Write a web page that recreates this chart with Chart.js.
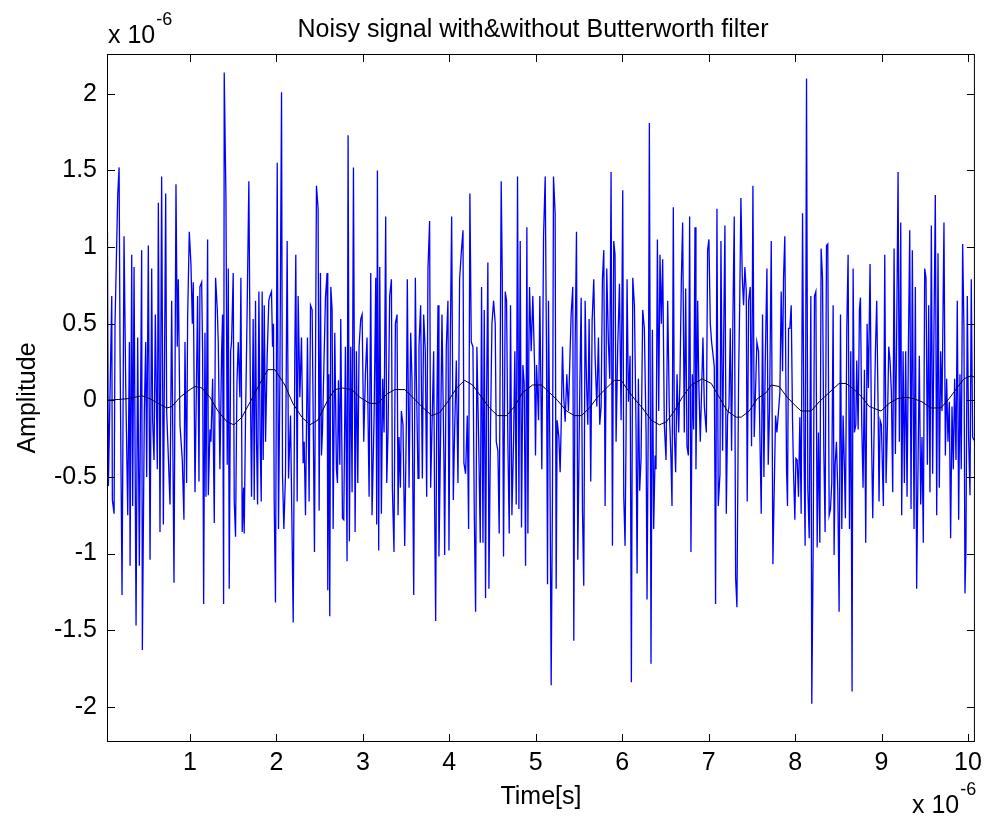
<!DOCTYPE html>
<html>
<head>
<meta charset="utf-8">
<title>Noisy signal with&amp;without Butterworth filter</title>
<script src="https://cdn.jsdelivr.net/npm/chart.js@4/dist/chart.umd.min.js"></script>
<style>
  html, body { margin: 0; padding: 0; background: #fff; }
  canvas { display: block; }
</style>
</head>
<body>
<canvas id="grafico" width="988" height="821"></canvas>
<script>
// Time in microseconds, amplitude in units of 1e-6 (axes show "x 10^-6")
const noisyTime = [
  0.045,0.056,0.095,0.102,0.122,0.133,0.164,0.180,0.191,0.214,0.237,0.257,0.280,0.299,0.307,0.326,0.337,0.353,0.376,0.395,0.414,0.441,0.449,0.472,0.488,0.499,0.518,0.538,0.557,0.568,0.584,0.599,0.622,0.634,0.653,0.672,0.692,0.719,0.730,0.749,0.769,0.788,0.815,0.838,0.853,0.865,0.884,0.911,0.930,0.942,0.961,0.973,0.992,
  1.011,1.027,1.038,1.058,1.088,1.104,1.115,1.135,1.146,1.158,1.173,1.185,1.204,1.212,1.231,1.242,1.262,1.281,1.296,1.316,1.327,1.346,1.366,1.377,1.389,1.396,1.416,1.431,1.443,1.454,1.470,1.481,1.500,1.512,1.527,1.543,1.558,1.577,1.589,1.604,1.620,1.627,1.643,1.662,1.681,1.697,1.712,1.731,1.743,1.758,1.770,1.782,1.797,1.812,1.824,1.835,1.847,1.859,1.874,1.893,1.912,1.924,1.943,1.955,1.966,1.974,
  1.989,2.009,2.024,2.040,2.059,2.070,2.086,2.105,2.124,2.140,2.163,2.178,2.194,2.213,2.224,2.240,2.251,2.271,2.290,2.309,2.321,2.336,2.348,2.359,2.378,2.394,2.413,2.425,2.440,2.463,2.482,2.494,2.509,2.521,2.532,2.548,2.567,2.586,2.594,2.606,2.617,2.629,2.644,2.656,2.675,2.694,2.706,2.717,2.733,2.744,2.764,2.779,2.798,2.817,2.829,2.844,2.860,2.875,2.891,2.910,2.925,2.941,2.956,
  2.975,2.991,3.010,3.029,3.048,3.072,3.091,3.106,3.129,3.149,3.160,3.168,3.183,3.195,3.214,3.229,3.245,3.264,3.276,3.291,3.310,3.330,3.341,3.360,3.376,3.395,3.407,3.418,3.434,3.445,3.464,3.484,3.503,3.514,3.534,3.553,3.568,3.588,3.607,3.618,3.638,3.649,3.668,3.688,3.703,3.722,3.738,3.753,3.772,3.784,3.799,3.819,3.830,3.842,3.853,3.869,3.880,3.900,3.915,3.938,
  3.946,3.965,3.984,3.996,4.011,4.027,4.046,4.061,4.081,4.100,4.119,4.138,4.158,4.169,4.188,4.208,4.223,4.238,4.254,4.273,4.289,4.304,4.319,4.342,4.358,4.373,4.389,4.404,4.419,4.431,4.446,4.458,4.477,4.493,4.512,4.531,4.543,4.562,4.577,4.600,4.612,4.627,4.647,4.662,4.677,4.693,4.708,4.724,4.743,4.758,4.774,4.789,4.805,4.820,4.835,4.851,4.866,4.882,4.897,4.909,4.920,
  4.928,4.947,4.966,4.986,4.997,5.009,5.032,5.047,5.070,5.090,5.109,5.124,5.136,5.147,5.163,5.178,5.193,5.205,5.224,5.236,5.247,5.267,5.282,5.294,5.309,5.324,5.340,5.359,5.378,5.409,5.428,5.440,5.455,5.471,5.486,5.505,5.525,5.540,5.555,5.571,5.586,5.602,5.617,5.636,5.652,5.671,5.686,5.706,5.725,5.740,5.756,5.771,5.787,5.802,5.821,5.840,5.856,5.871,5.887,5.902,
  5.917,5.929,5.948,5.968,5.987,6.006,6.018,6.033,6.045,6.056,6.072,6.091,6.106,6.122,6.141,6.160,6.172,6.187,6.202,6.218,6.237,6.256,6.276,6.287,6.303,6.314,6.326,6.333,6.349,6.364,6.380,6.391,6.407,6.422,6.437,6.453,6.468,6.487,6.507,6.526,6.545,6.564,6.576,6.591,6.603,6.618,6.634,6.653,6.668,6.684,6.699,6.718,6.734,6.749,6.765,6.780,6.795,6.811,6.826,6.842,6.853,6.873,6.884,
  6.903,6.919,6.934,6.950,6.973,6.988,7.003,7.019,7.034,7.046,7.065,7.080,7.096,7.111,7.131,7.142,7.161,7.177,7.188,7.204,7.219,7.235,7.250,7.265,7.281,7.296,7.312,7.327,7.346,7.358,7.373,7.389,7.404,7.419,7.435,7.446,7.462,7.481,7.496,7.512,7.527,7.543,7.558,7.577,7.593,7.608,7.623,7.639,7.654,7.674,7.689,7.704,7.724,7.743,7.758,7.774,7.789,7.804,7.824,7.839,7.855,7.866,
  7.881,7.901,7.912,7.924,7.939,7.955,7.970,7.982,7.997,8.009,8.024,8.039,8.055,8.070,8.086,8.105,8.116,8.132,8.147,8.163,8.182,8.193,8.209,8.224,8.240,8.255,8.270,8.286,8.301,8.317,8.332,8.347,8.363,8.378,8.394,8.409,8.424,8.440,8.451,8.463,8.478,8.494,8.509,8.525,8.540,8.555,8.571,8.582,8.598,8.613,8.629,8.644,8.659,8.671,8.686,8.702,8.713,8.729,8.744,8.756,8.771,8.786,8.802,8.817,8.833,8.848,
  8.867,8.883,8.898,8.914,8.929,8.944,8.960,8.971,8.983,8.998,9.021,9.037,9.052,9.068,9.083,9.098,9.114,9.129,9.145,9.160,9.175,9.191,9.206,9.222,9.233,9.249,9.264,9.279,9.295,9.310,9.326,9.341,9.356,9.376,9.391,9.406,9.422,9.437,9.453,9.468,9.483,9.499,9.514,9.530,9.545,9.560,9.576,9.591,9.607,9.622,9.638,9.653,9.668,9.684,9.699,9.722,9.738,9.753,9.768,9.784,9.799,9.815,9.830,9.845,9.861,9.876,9.892,9.907,9.922,9.938,9.953,9.965,9.976,9.992,10.007,10.023,10.038,10.053,10.069
];
const noisyAmp = [
  1.10,-0.56,0.68,-0.65,-0.74,0.50,1.34,1.52,0.32,-1.27,1.07,0.08,-0.75,0.38,-1.08,0.95,-0.69,0.87,-1.47,0.41,-1.08,0.98,-1.63,-0.07,0.38,-0.50,1.01,-1.04,0.86,-0.13,-0.39,0.56,-0.45,1.29,-0.86,1.46,-0.81,1.35,-0.07,-0.36,-0.68,0.65,-1.19,1.41,0.35,0.79,-0.16,-0.39,-0.78,0.38,-0.54,0.55,1.10,
  0.89,0.50,0.77,-0.60,0.68,-0.53,0.74,0.77,0.32,-1.33,0.44,-0.63,1.05,-0.62,-0.19,-0.27,0.14,-0.80,0.80,0.59,0.38,-0.45,0.32,0.56,-1.33,2.14,1.32,-0.42,0.86,-1.23,0.32,0.38,0.83,-0.66,-0.89,0.11,0.38,0.02,0.80,-0.86,-0.57,-0.87,-0.10,0.62,1.43,0.17,-0.63,0.53,-0.65,0.65,-0.27,-0.68,0.71,-0.27,-0.66,0.71,-0.39,0.62,-0.27,0.29,0.65,0.68,0.71,0.35,0.50,-0.65,
  -1.32,1.55,-0.84,0.14,2.01,-0.48,-0.84,-0.48,1.04,-0.51,-0.10,-0.75,-1.45,0.32,0.95,-0.66,0.68,0.02,0.41,-0.41,-0.27,-0.75,-0.16,0.41,-0.66,0.62,0.59,-0.10,-0.99,1.40,1.25,-0.72,0.83,-0.36,-0.21,0.20,0.67,0.83,-1.24,0.17,-1.41,0.74,0.59,-0.84,0.44,-0.45,-0.54,0.13,-0.42,0.53,-0.77,-0.78,0.35,-1.05,1.73,-0.92,0.35,-0.60,1.52,-0.86,0.32,-0.54,0.35,
  0.53,0.56,-0.27,0.17,0.41,-0.63,0.83,-0.75,-0.13,0.80,-0.81,1.50,-0.98,0.87,-0.74,0.14,-0.21,1.20,-0.54,-0.21,0.68,0.79,-0.57,-0.99,0.50,0.56,-0.75,-0.24,-0.57,-0.07,-0.16,-0.95,-0.14,0.79,-0.57,0.44,0.14,-1.27,0.80,0.17,-0.51,0.35,0.62,-0.51,0.56,0.32,-0.63,0.86,1.17,-0.57,-0.19,0.32,-0.71,-1.44,-0.21,0.62,-1.02,-0.19,0.56,-0.42,
  -1.01,0.35,0.65,-0.98,0.38,1.20,-0.65,-0.21,0.26,-0.54,0.79,0.96,1.11,-0.41,-0.48,-0.10,-0.84,1.35,0.38,0.35,-0.75,-1.38,0.35,-0.35,-0.93,0.74,-0.93,0.59,-1.29,0.02,0.90,-1.23,-0.16,0.50,0.65,0.50,-0.27,-0.33,-0.87,1.43,0.83,-1.02,0.71,0.65,-0.27,-0.87,0.62,-0.75,-0.27,0.32,-0.68,1.46,-0.71,1.04,-0.83,0.23,0.11,-1.08,1.13,-0.87,0.32,
  0.74,0.32,0.68,0.23,-0.36,0.23,-0.13,0.68,-0.45,1.07,1.46,0.32,-1.20,0.65,-0.33,-1.86,-0.63,1.46,1.22,-1.23,-0.13,-0.24,-0.47,-0.16,0.35,0.02,-0.14,0.17,-0.07,0.56,0.74,-1.57,0.35,1.10,-1.04,-0.10,0.67,-0.71,-1.21,0.65,0.14,-0.16,0.53,-0.53,0.52,0.79,0.29,-0.04,0.41,-0.16,-0.04,0.79,0.98,-0.69,0.86,0.38,0.14,1.49,-0.95,1.04,
  0.95,-0.27,0.35,0.76,-0.13,1.37,-0.63,-0.95,-0.19,0.79,-0.01,0.29,-1.84,0.80,0.62,-0.19,-1.13,0.14,-0.59,-0.38,0.59,0.47,-0.21,-1.30,0.02,1.81,-0.21,-1.72,0.46,-0.84,-0.36,-0.45,1.05,-0.07,0.95,0.50,0.92,-0.16,-0.39,0.65,-0.07,-0.38,-0.69,1.26,-0.21,-0.47,0.17,-0.21,0.14,0.79,1.16,-0.21,0.73,-0.30,-0.36,1.20,-0.99,0.17,-0.19,1.13,-0.45,0.65,0.17,
  -0.27,0.08,0.41,-0.04,-0.21,0.98,1.05,0.50,0.38,0.32,0.22,-1.33,1.25,-0.69,-0.48,1.04,-0.33,0.59,1.14,-0.74,-0.10,-0.04,0.47,-0.33,0.56,1.20,-1.16,-1.35,0.14,0.58,1.32,0.80,0.62,0.87,0.71,-0.66,0.65,0.74,-0.30,1.40,-0.24,0.08,0.38,0.32,-0.24,-0.74,0.56,-0.50,0.23,0.86,-0.42,-0.07,1.04,-1.07,-0.59,-0.10,-0.21,-0.10,0.05,0.71,0.19,0.80,
  1.07,-0.45,-0.69,0.47,0.47,0.62,-0.13,-0.47,-0.78,-0.38,-0.39,-0.63,-0.11,-0.74,1.22,-0.45,-0.95,2.10,-0.57,-0.90,0.68,-1.98,-0.96,0.68,0.71,-0.96,-0.21,-0.93,0.99,0.80,-0.33,-0.86,1.01,1.02,-0.75,-0.71,-0.54,0.62,-1.01,-0.42,-0.27,-0.59,-1.38,0.56,-0.84,-0.10,-0.45,-0.77,0.47,0.95,-0.84,0.32,-1.90,0.86,-0.21,-0.16,0.26,-0.19,0.59,0.67,-0.16,-0.57,0.20,-0.93,0.50,0.08,
  0.89,-0.20,-0.77,-0.19,0.32,0.65,-0.04,-0.66,-0.13,-0.16,-0.69,0.95,-0.54,-0.16,0.35,0.26,0.05,-0.60,0.99,-0.35,0.44,1.49,-0.27,1.16,-0.75,0.32,-0.54,0.32,-0.63,0.32,1.11,-0.71,0.98,-0.84,0.74,-1.23,-0.42,0.29,-0.68,-0.24,-0.93,0.86,0.80,-0.42,0.62,-0.60,1.14,-0.48,0.50,1.34,-0.75,0.96,-0.57,0.32,-0.07,1.16,-0.36,0.14,-0.27,-0.01,-0.90,-0.04,-0.45,0.14,-0.39,0.65,-0.78,0.17,-0.45,1.02,0.47,-1.26,-0.98,0.68,-0.24,-0.62,0.79,-0.24,-0.26
];

// Butterworth filtered signal (black)
const filtTime = [
  0.041,0.272,0.364,0.445,0.538,0.630,0.734,0.792,0.884,1.000,
  1.058,1.139,1.231,1.323,1.427,1.508,1.601,1.716,1.809,1.901,
  1.982,2.097,2.190,2.294,2.386,2.479,2.583,2.675,2.768,2.871,
  2.964,3.079,3.172,3.276,3.368,3.484,3.576,3.680,3.796,3.888,
  3.980,4.085,4.177,4.269,4.373,4.466,4.558,4.662,4.755,4.847,
  4.963,5.066,5.159,5.251,5.355,5.448,5.528,5.621,5.713,5.817,
  5.910,5.990,6.048,6.141,6.233,6.337,6.430,6.511,6.603,6.695,
  6.799,6.926,7.030,7.123,7.215,7.319,7.377,7.469,7.562,7.666,
  7.724,7.816,7.908,8.012,8.070,8.185,8.278,8.394,8.509,8.590,
  8.683,8.775,8.856,8.994,9.087,9.179,9.283,9.376,9.468,9.572,
  9.687,9.780,9.872,9.953,10.034,10.08
];
const filtAmp = [
  0,0.01,0.02,0.03,0.01,-0.02,-0.05,-0.04,0.02,0.07,
  0.09,0.08,0.02,-0.07,-0.14,-0.16,-0.11,0.01,0.11,0.20,
  0.20,0.10,-0.02,-0.11,-0.16,-0.13,-0.01,0.07,0.08,0.07,
  0.02,-0.02,-0.02,0.04,0.07,0.07,0.02,-0.04,-0.10,-0.08,
  -0.01,0.08,0.13,0.10,0.02,-0.05,-0.10,-0.10,-0.04,0.05,
  0.10,0.10,0.05,0.00,-0.07,-0.10,-0.10,-0.05,0.02,0.08,
  0.13,0.13,0.08,0.01,-0.05,-0.13,-0.16,-0.14,-0.07,0.02,
  0.10,0.14,0.11,0.02,-0.07,-0.11,-0.11,-0.07,0.01,0.05,
  0.10,0.09,0.02,-0.04,-0.07,-0.07,-0.01,0.05,0.11,0.11,
  0.07,0.02,-0.04,-0.07,-0.02,0.01,0.02,0.01,-0.01,-0.05,
  -0.05,0.01,0.08,0.14,0.16,0.15
];

const xTicks = [1, 2, 3, 4, 5, 6, 7, 8, 9, 10];
const yTicks = [-2, -1.5, -1, -0.5, 0, 0.5, 1, 1.5, 2];
const xLimits = [0.04, 10.08];
const yLimits = [-2.23, 2.26];

const titulo = 'Noisy signal with&without Butterworth filter';
const FONT = '"Liberation Sans", Arial, Helvetica, sans-serif';
const TICK_LEN = 8;

// pairs for the library
const toPoints = (xs, ys) => xs.map((t, i) => ({ x: t, y: ys[i] }));

// MATLAB style: white figure, boxed axes, ticks pointing inwards, exponent labels
const matlabAxes = {
  id: 'matlabAxes',
  beforeDraw(chart) {
    const ctx = chart.ctx;
    ctx.save();
    ctx.fillStyle = '#fff';
    ctx.fillRect(0, 0, chart.width, chart.height);
    ctx.restore();
  },
  afterDraw(chart) {
    const { ctx, chartArea: a, scales: { x, y } } = chart;
    ctx.save();
    ctx.strokeStyle = '#000';
    ctx.lineWidth = 1;
    ctx.strokeRect(a.left + 0.5, a.top + 0.5, a.right - a.left - 1, a.bottom - a.top - 1);

    ctx.beginPath();
    xTicks.forEach(v => {
      const px = Math.round(x.getPixelForValue(v)) + 0.5;
      ctx.moveTo(px, a.bottom); ctx.lineTo(px, a.bottom - TICK_LEN);
      ctx.moveTo(px, a.top); ctx.lineTo(px, a.top + TICK_LEN);
    });
    yTicks.forEach(v => {
      const py = Math.round(y.getPixelForValue(v)) + 0.5;
      ctx.moveTo(a.left, py); ctx.lineTo(a.left + TICK_LEN, py);
      ctx.moveTo(a.right, py); ctx.lineTo(a.right - TICK_LEN, py);
    });
    ctx.stroke();

    ctx.fillStyle = '#000';
    ctx.textBaseline = 'alphabetic';
    ctx.font = '25px ' + FONT;
    ctx.textAlign = 'center';
    ctx.fillText(titulo, 533, 37);

    // "x 10^-6" multipliers
    const expoente = (left, base) => {
      ctx.textAlign = 'left';
      ctx.font = '25px ' + FONT;
      ctx.fillText('x 10', left, base);
      const w = ctx.measureText('x 10').width;
      ctx.font = '18px ' + FONT;
      ctx.fillText('-6', left + w + 1, base - 18);
    };
    expoente(a.left + 1, 43);
    expoente(912, 813);
    ctx.restore();
  }
};

document.addEventListener('DOMContentLoaded', () => {
  Chart.defaults.font.family = FONT;
  Chart.defaults.font.size = 25;
  Chart.defaults.color = '#000';

  new Chart(document.getElementById('grafico').getContext('2d'), {
    type: 'line',
    data: {
      datasets: [
        {
          label: 'filtered',
          data: toPoints(filtTime, filtAmp),
          borderColor: '#000000',
          borderWidth: 1,
          pointRadius: 0,
          order: 0
        },
        {
          label: 'noisy',
          data: toPoints(noisyTime, noisyAmp),
          borderColor: '#0000ff',
          borderWidth: 1.3,
          pointRadius: 0,
          order: 1
        }
      ]
    },
    options: {
      responsive: false,
      animation: false,
      layout: { padding: { top: 54, right: 12, left: 0, bottom: 0 } },
      elements: { line: { tension: 0 } },
      plugins: {
        legend: { display: false },
        tooltip: { enabled: false },
        title: { display: false }
      },
      scales: {
        x: {
          type: 'linear',
          min: xLimits[0],
          max: xLimits[1],
          afterBuildTicks: s => { s.ticks = xTicks.map(v => ({ value: v })); },
          afterFit: s => { s.height = 79; },
          grid: { display: false, drawTicks: false },
          border: { display: false },
          ticks: { padding: 6, maxRotation: 0, autoSkip: false, callback: v => String(v) },
          title: { display: true, text: 'Time[s]', padding: { top: 0, bottom: 9 } }
        },
        y: {
          type: 'linear',
          min: yLimits[0],
          max: yLimits[1],
          afterBuildTicks: s => { s.ticks = yTicks.map(v => ({ value: v })); },
          afterFit: s => { s.width = 107; },
          grid: { display: false, drawTicks: false },
          border: { display: false },
          ticks: { padding: 10, autoSkip: false, callback: v => String(v) },
          title: { display: true, text: 'Amplitude', padding: { top: 13, bottom: 0 } }
        }
      }
    },
    plugins: [matlabAxes]
  });
});
</script>
</body>
</html>
